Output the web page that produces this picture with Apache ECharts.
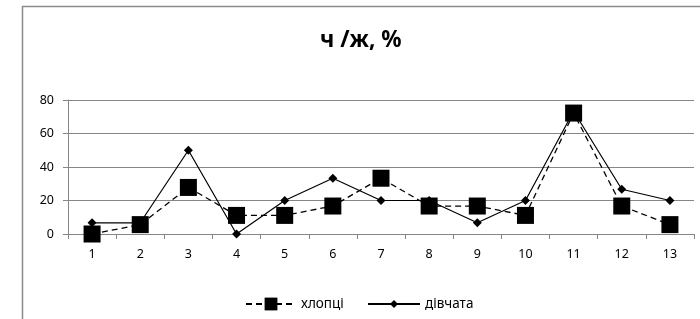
<!DOCTYPE html>
<html>
<head>
<meta charset="utf-8">
<script src="https://cdn.jsdelivr.net/npm/echarts@6/dist/echarts.min.js"></script>
<style>
  html, body { margin: 0; padding: 0; background: #fff; }
  #main { width: 700px; height: 319px; }
</style>
</head>
<body>
<div id="main"></div>
<script>
var categories = ['1', '2', '3', '4', '5', '6', '7', '8', '9', '10', '11', '12', '13'];
var boys = [0, 5.6, 27.8, 11.1, 11.1, 16.7, 33.3, 16.7, 16.7, 11.1, 72.2, 16.7, 5.6];
var girls = [6.7, 6.7, 50, 0, 20, 33.3, 20, 20, 6.7, 20, 73.3, 26.7, 20];
var yTicks = [0, 20, 40, 60, 80];

var myChart = echarts.init(document.getElementById('main'));
var font = '"Noto Sans", "Open Sans", sans-serif';

myChart.setOption({
    animation: false,
    textStyle: { fontFamily: font },
    graphic: [{
        type: 'rect',
        z: -10,
        shape: { x: 22.5, y: 6.5, width: 800, height: 400 },
        style: { fill: 'none', stroke: '#8a8a8a', lineWidth: 1.5 }
    }],
    title: {
        text: 'ч /ж, %',
        left: 315,
        top: 24,
        textStyle: { fontFamily: font, fontSize: 22.5, fontWeight: 'bold', color: '#000' }
    },
    legend: [{
        data: ['хлопці'],
        left: 240,
        top: 292,
        itemWidth: 50,
        itemHeight: 16,
        textStyle: { fontFamily: font, fontSize: 13.5, color: '#000' }
    }, {
        data: ['дівчата'],
        left: 362,
        top: 292,
        itemWidth: 52,
        itemHeight: 10,
        textStyle: { fontFamily: font, fontSize: 13.5, color: '#000' }
    }],
    grid: { left: 68, right: 6, top: 100, bottom: 85, containLabel: false },
    xAxis: {
        type: 'category',
        data: categories,
        boundaryGap: true,
        axisLine: { lineStyle: { color: '#868686' } },
        axisTick: { show: true, length: 5, lineStyle: { color: '#868686' } },
        axisLabel: { color: '#000', fontSize: 12.5, margin: 14 }
    },
    yAxis: {
        type: 'value',
        min: yTicks[0],
        max: yTicks[yTicks.length - 1],
        interval: 20,
        axisLine: { show: true, lineStyle: { color: '#868686' } },
        axisTick: { show: true, length: 5, lineStyle: { color: '#868686' } },
        axisLabel: { color: '#000', fontSize: 12.5, margin: 14 },
        splitLine: { lineStyle: { color: '#868686' } }
    },
    series: [{
        name: 'хлопці',
        type: 'line',
        data: boys,
        symbol: 'rect',
        symbolSize: 17,
        itemStyle: { color: '#000' },
        lineStyle: { color: '#000', width: 1.3, type: [6, 4] },
        z: 3
    }, {
        name: 'дівчата',
        type: 'line',
        data: girls,
        symbol: 'diamond',
        symbolSize: 9,
        itemStyle: { color: '#000' },
        lineStyle: { color: '#000', width: 1.2 },
        z: 2
    }]
});
</script>
</body>
</html>
